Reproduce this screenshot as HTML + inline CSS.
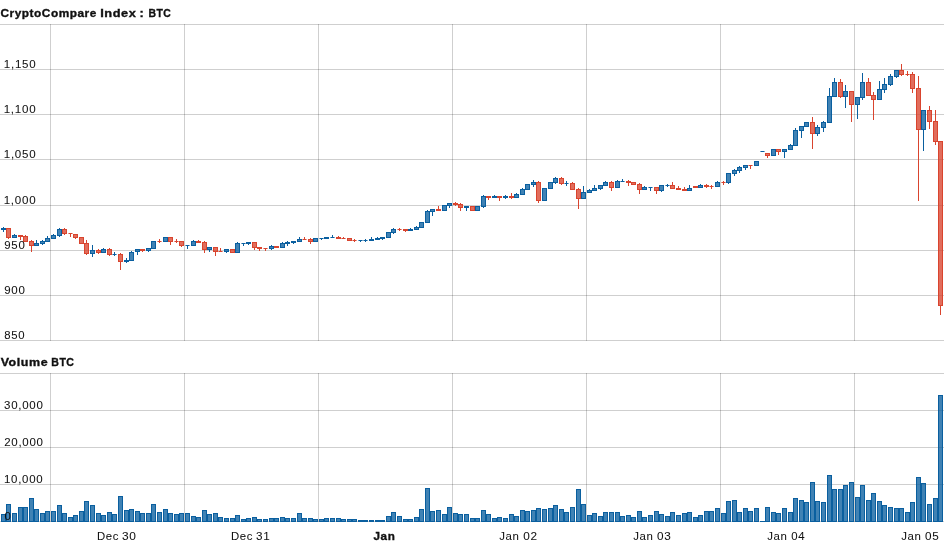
<!DOCTYPE html>
<html><head><meta charset="utf-8">
<style>
html,body{margin:0;padding:0;background:#fff;}
body{width:944px;height:550px;overflow:hidden;position:relative;}
svg{position:absolute;left:0;top:0;will-change:transform;}
text{font-family:"Liberation Sans",sans-serif;fill:#111;}
</style></head><body>
<svg width="944" height="550" viewBox="0 0 944 550">
<g shape-rendering="crispEdges"><rect x="0" y="24" width="944" height="1" fill="rgba(0,0,0,0.19)"/><rect x="0" y="69" width="944" height="1" fill="rgba(0,0,0,0.19)"/><rect x="0" y="114" width="944" height="1" fill="rgba(0,0,0,0.19)"/><rect x="0" y="159" width="944" height="1" fill="rgba(0,0,0,0.19)"/><rect x="0" y="205" width="944" height="1" fill="rgba(0,0,0,0.19)"/><rect x="0" y="250" width="944" height="1" fill="rgba(0,0,0,0.19)"/><rect x="0" y="295" width="944" height="1" fill="rgba(0,0,0,0.19)"/><rect x="0" y="340" width="944" height="1" fill="rgba(0,0,0,0.19)"/><rect x="0" y="373" width="944" height="1" fill="rgba(0,0,0,0.19)"/><rect x="0" y="410" width="944" height="1" fill="rgba(0,0,0,0.19)"/><rect x="0" y="447" width="944" height="1" fill="rgba(0,0,0,0.19)"/><rect x="0" y="484" width="944" height="1" fill="rgba(0,0,0,0.19)"/><rect x="0" y="521" width="944" height="1" fill="rgba(0,0,0,0.19)"/><rect x="50" y="24" width="1" height="317" fill="rgba(0,0,0,0.19)"/><rect x="50" y="373" width="1" height="149" fill="rgba(0,0,0,0.19)"/><rect x="184" y="24" width="1" height="317" fill="rgba(0,0,0,0.19)"/><rect x="184" y="373" width="1" height="149" fill="rgba(0,0,0,0.19)"/><rect x="318" y="24" width="1" height="317" fill="rgba(0,0,0,0.19)"/><rect x="318" y="373" width="1" height="149" fill="rgba(0,0,0,0.19)"/><rect x="452" y="24" width="1" height="317" fill="rgba(0,0,0,0.19)"/><rect x="452" y="373" width="1" height="149" fill="rgba(0,0,0,0.19)"/><rect x="586" y="24" width="1" height="317" fill="rgba(0,0,0,0.19)"/><rect x="586" y="373" width="1" height="149" fill="rgba(0,0,0,0.19)"/><rect x="720" y="24" width="1" height="317" fill="rgba(0,0,0,0.19)"/><rect x="720" y="373" width="1" height="149" fill="rgba(0,0,0,0.19)"/><rect x="854" y="24" width="1" height="317" fill="rgba(0,0,0,0.19)"/><rect x="854" y="373" width="1" height="149" fill="rgba(0,0,0,0.19)"/></g>
<g shape-rendering="crispEdges"><rect x="3" y="227" width="1" height="1" fill="#0a5f9f"/><rect x="3" y="230" width="1" height="2" fill="#0a5f9f"/><rect x="1" y="228" width="5" height="2" fill="#0a5f9f"/><rect x="8" y="238" width="1" height="1" fill="#d9442e"/><rect x="6.5" y="228.5" width="4" height="9" fill="rgba(217,68,46,0.78)" stroke="#d9442e" stroke-width="1"/><rect x="14" y="234" width="1" height="1" fill="#0a5f9f"/><rect x="12.5" y="235.5" width="4" height="2" fill="rgba(10,95,159,0.78)" stroke="#0a5f9f" stroke-width="1"/><rect x="20" y="237" width="1" height="3" fill="#d9442e"/><rect x="18" y="235" width="5" height="2" fill="#d9442e"/><rect x="25" y="235" width="1" height="1" fill="#d9442e"/><rect x="23.5" y="236.5" width="4" height="5" fill="rgba(217,68,46,0.78)" stroke="#d9442e" stroke-width="1"/><rect x="31" y="240" width="1" height="1" fill="#d9442e"/><rect x="31" y="246" width="1" height="6" fill="#d9442e"/><rect x="29.5" y="241.5" width="4" height="4" fill="rgba(217,68,46,0.78)" stroke="#d9442e" stroke-width="1"/><rect x="36" y="240" width="1" height="3" fill="#0a5f9f"/><rect x="34.5" y="243.5" width="4" height="2" fill="rgba(10,95,159,0.78)" stroke="#0a5f9f" stroke-width="1"/><rect x="42" y="240" width="1" height="1" fill="#0a5f9f"/><rect x="42" y="244" width="1" height="1" fill="#0a5f9f"/><rect x="40.5" y="241.5" width="4" height="2" fill="rgba(10,95,159,0.78)" stroke="#0a5f9f" stroke-width="1"/><rect x="47" y="236" width="1" height="2" fill="#0a5f9f"/><rect x="45.5" y="238.5" width="4" height="3" fill="rgba(10,95,159,0.78)" stroke="#0a5f9f" stroke-width="1"/><rect x="53" y="234" width="1" height="1" fill="#0a5f9f"/><rect x="51.5" y="235.5" width="4" height="3" fill="rgba(10,95,159,0.78)" stroke="#0a5f9f" stroke-width="1"/><rect x="59" y="228" width="1" height="1" fill="#0a5f9f"/><rect x="59" y="236" width="1" height="1" fill="#0a5f9f"/><rect x="57.5" y="229.5" width="4" height="6" fill="rgba(10,95,159,0.78)" stroke="#0a5f9f" stroke-width="1"/><rect x="64" y="228" width="1" height="1" fill="#d9442e"/><rect x="64" y="234" width="1" height="1" fill="#d9442e"/><rect x="62.5" y="229.5" width="4" height="4" fill="rgba(217,68,46,0.78)" stroke="#d9442e" stroke-width="1"/><rect x="70" y="234" width="1" height="3" fill="#d9442e"/><rect x="69" y="233" width="3" height="1" fill="#d9442e"/><rect x="68" y="233" width="1" height="1" fill="#d9442e" fill-opacity="0.55"/><rect x="72" y="233" width="1" height="1" fill="#d9442e" fill-opacity="0.55"/><rect x="75" y="238" width="1" height="1" fill="#d9442e"/><rect x="73.5" y="234.5" width="4" height="3" fill="rgba(217,68,46,0.78)" stroke="#d9442e" stroke-width="1"/><rect x="79.5" y="237.5" width="4" height="6" fill="rgba(217,68,46,0.78)" stroke="#d9442e" stroke-width="1"/><rect x="86" y="240" width="1" height="3" fill="#d9442e"/><rect x="86" y="254" width="1" height="1" fill="#d9442e"/><rect x="84.5" y="243.5" width="4" height="10" fill="rgba(217,68,46,0.78)" stroke="#d9442e" stroke-width="1"/><rect x="92" y="245" width="1" height="5" fill="#0a5f9f"/><rect x="92" y="254" width="1" height="3" fill="#0a5f9f"/><rect x="90.5" y="250.5" width="4" height="3" fill="rgba(10,95,159,0.78)" stroke="#0a5f9f" stroke-width="1"/><rect x="98" y="249" width="1" height="1" fill="#d9442e"/><rect x="98" y="253" width="1" height="1" fill="#d9442e"/><rect x="96.5" y="250.5" width="4" height="2" fill="rgba(217,68,46,0.78)" stroke="#d9442e" stroke-width="1"/><rect x="103" y="248" width="1" height="1" fill="#0a5f9f"/><rect x="101.5" y="249.5" width="4" height="3" fill="rgba(10,95,159,0.78)" stroke="#0a5f9f" stroke-width="1"/><rect x="109" y="248" width="1" height="1" fill="#d9442e"/><rect x="109" y="255" width="1" height="1" fill="#d9442e"/><rect x="107.5" y="249.5" width="4" height="5" fill="rgba(217,68,46,0.78)" stroke="#d9442e" stroke-width="1"/><rect x="114" y="252" width="1" height="2" fill="#0a5f9f"/><rect x="114" y="255" width="1" height="1" fill="#0a5f9f"/><rect x="113" y="254" width="3" height="1" fill="#0a5f9f"/><rect x="112" y="254" width="1" height="1" fill="#0a5f9f" fill-opacity="0.55"/><rect x="116" y="254" width="1" height="1" fill="#0a5f9f" fill-opacity="0.55"/><rect x="120" y="253" width="1" height="1" fill="#d9442e"/><rect x="120" y="262" width="1" height="8" fill="#d9442e"/><rect x="118.5" y="254.5" width="4" height="7" fill="rgba(217,68,46,0.78)" stroke="#d9442e" stroke-width="1"/><rect x="126" y="258" width="1" height="2" fill="#0a5f9f"/><rect x="126" y="262" width="1" height="1" fill="#0a5f9f"/><rect x="124" y="260" width="5" height="2" fill="#0a5f9f"/><rect x="131" y="251" width="1" height="1" fill="#0a5f9f"/><rect x="129.5" y="252.5" width="4" height="8" fill="rgba(10,95,159,0.78)" stroke="#0a5f9f" stroke-width="1"/><rect x="137" y="252" width="1" height="3" fill="#0a5f9f"/><rect x="135.5" y="249.5" width="4" height="2" fill="rgba(10,95,159,0.78)" stroke="#0a5f9f" stroke-width="1"/><rect x="142" y="251" width="1" height="1" fill="#d9442e"/><rect x="140" y="249" width="5" height="2" fill="#d9442e"/><rect x="148" y="251" width="1" height="1" fill="#0a5f9f"/><rect x="146.5" y="248.5" width="4" height="2" fill="rgba(10,95,159,0.78)" stroke="#0a5f9f" stroke-width="1"/><rect x="151.5" y="241.5" width="4" height="7" fill="rgba(10,95,159,0.78)" stroke="#0a5f9f" stroke-width="1"/><rect x="159" y="239" width="1" height="2" fill="#d9442e"/><rect x="159" y="242" width="1" height="1" fill="#d9442e"/><rect x="158" y="241" width="3" height="1" fill="#d9442e"/><rect x="157" y="241" width="1" height="1" fill="#d9442e" fill-opacity="0.55"/><rect x="161" y="241" width="1" height="1" fill="#d9442e" fill-opacity="0.55"/><rect x="163.5" y="237.5" width="4" height="4" fill="rgba(10,95,159,0.78)" stroke="#0a5f9f" stroke-width="1"/><rect x="170" y="242" width="1" height="3" fill="#d9442e"/><rect x="168.5" y="237.5" width="4" height="4" fill="rgba(217,68,46,0.78)" stroke="#d9442e" stroke-width="1"/><rect x="176" y="239" width="1" height="2" fill="#d9442e"/><rect x="176" y="242" width="1" height="1" fill="#d9442e"/><rect x="175" y="241" width="3" height="1" fill="#d9442e"/><rect x="174" y="241" width="1" height="1" fill="#d9442e" fill-opacity="0.55"/><rect x="178" y="241" width="1" height="1" fill="#d9442e" fill-opacity="0.55"/><rect x="181" y="246" width="1" height="1" fill="#d9442e"/><rect x="179.5" y="241.5" width="4" height="4" fill="rgba(217,68,46,0.78)" stroke="#d9442e" stroke-width="1"/><rect x="187" y="246" width="1" height="3" fill="#0a5f9f"/><rect x="186" y="245" width="3" height="1" fill="#0a5f9f"/><rect x="185" y="245" width="1" height="1" fill="#0a5f9f" fill-opacity="0.55"/><rect x="189" y="245" width="1" height="1" fill="#0a5f9f" fill-opacity="0.55"/><rect x="193" y="240" width="1" height="1" fill="#0a5f9f"/><rect x="191.5" y="241.5" width="4" height="4" fill="rgba(10,95,159,0.78)" stroke="#0a5f9f" stroke-width="1"/><rect x="198" y="240" width="1" height="1" fill="#d9442e"/><rect x="196" y="241" width="5" height="2" fill="#d9442e"/><rect x="204" y="241" width="1" height="1" fill="#d9442e"/><rect x="204" y="250" width="1" height="3" fill="#d9442e"/><rect x="202.5" y="242.5" width="4" height="7" fill="rgba(217,68,46,0.78)" stroke="#d9442e" stroke-width="1"/><rect x="209" y="250" width="1" height="2" fill="#0a5f9f"/><rect x="207.5" y="247.5" width="4" height="2" fill="rgba(10,95,159,0.78)" stroke="#0a5f9f" stroke-width="1"/><rect x="215" y="252" width="1" height="4" fill="#d9442e"/><rect x="213.5" y="247.5" width="4" height="4" fill="rgba(217,68,46,0.78)" stroke="#d9442e" stroke-width="1"/><rect x="220" y="248" width="1" height="3" fill="#d9442e"/><rect x="219" y="251" width="3" height="1" fill="#d9442e"/><rect x="218" y="251" width="1" height="1" fill="#d9442e" fill-opacity="0.55"/><rect x="222" y="251" width="1" height="1" fill="#d9442e" fill-opacity="0.55"/><rect x="226" y="252" width="1" height="1" fill="#0a5f9f"/><rect x="224.5" y="249.5" width="4" height="2" fill="rgba(10,95,159,0.78)" stroke="#0a5f9f" stroke-width="1"/><rect x="230.5" y="249.5" width="4" height="3" fill="rgba(217,68,46,0.78)" stroke="#d9442e" stroke-width="1"/><rect x="237" y="242" width="1" height="1" fill="#0a5f9f"/><rect x="235.5" y="243.5" width="4" height="9" fill="rgba(10,95,159,0.78)" stroke="#0a5f9f" stroke-width="1"/><rect x="243" y="244" width="1" height="2" fill="#0a5f9f"/><rect x="242" y="243" width="3" height="1" fill="#0a5f9f"/><rect x="241" y="243" width="1" height="1" fill="#0a5f9f" fill-opacity="0.55"/><rect x="245" y="243" width="1" height="1" fill="#0a5f9f" fill-opacity="0.55"/><rect x="248" y="244" width="1" height="1" fill="#0a5f9f"/><rect x="246" y="242" width="5" height="2" fill="#0a5f9f"/><rect x="254" y="248" width="1" height="2" fill="#d9442e"/><rect x="252.5" y="242.5" width="4" height="5" fill="rgba(217,68,46,0.78)" stroke="#d9442e" stroke-width="1"/><rect x="259" y="249" width="1" height="2" fill="#d9442e"/><rect x="257" y="247" width="5" height="2" fill="#d9442e"/><rect x="265" y="249" width="1" height="2" fill="#d9442e"/><rect x="264" y="248" width="3" height="1" fill="#d9442e"/><rect x="263" y="248" width="1" height="1" fill="#d9442e" fill-opacity="0.55"/><rect x="267" y="248" width="1" height="1" fill="#d9442e" fill-opacity="0.55"/><rect x="271" y="245" width="1" height="1" fill="#0a5f9f"/><rect x="271" y="249" width="1" height="1" fill="#0a5f9f"/><rect x="269.5" y="246.5" width="4" height="2" fill="rgba(10,95,159,0.78)" stroke="#0a5f9f" stroke-width="1"/><rect x="274" y="246" width="5" height="2" fill="#d9442e"/><rect x="282" y="242" width="1" height="1" fill="#0a5f9f"/><rect x="280.5" y="243.5" width="4" height="4" fill="rgba(10,95,159,0.78)" stroke="#0a5f9f" stroke-width="1"/><rect x="287" y="241" width="1" height="1" fill="#0a5f9f"/><rect x="287" y="244" width="1" height="2" fill="#0a5f9f"/><rect x="285" y="242" width="5" height="2" fill="#0a5f9f"/><rect x="293" y="243" width="1" height="1" fill="#0a5f9f"/><rect x="291" y="241" width="5" height="2" fill="#0a5f9f"/><rect x="299" y="237" width="1" height="2" fill="#0a5f9f"/><rect x="297.5" y="239.5" width="4" height="2" fill="rgba(10,95,159,0.78)" stroke="#0a5f9f" stroke-width="1"/><rect x="304" y="237" width="1" height="2" fill="#d9442e"/><rect x="303" y="239" width="3" height="1" fill="#d9442e"/><rect x="302" y="239" width="1" height="1" fill="#d9442e" fill-opacity="0.55"/><rect x="306" y="239" width="1" height="1" fill="#d9442e" fill-opacity="0.55"/><rect x="310" y="238" width="1" height="1" fill="#d9442e"/><rect x="310" y="242" width="1" height="2" fill="#d9442e"/><rect x="308.5" y="239.5" width="4" height="2" fill="rgba(217,68,46,0.78)" stroke="#d9442e" stroke-width="1"/><rect x="313.5" y="238.5" width="4" height="3" fill="rgba(10,95,159,0.78)" stroke="#0a5f9f" stroke-width="1"/><rect x="321" y="239" width="1" height="1" fill="#0a5f9f"/><rect x="320" y="238" width="3" height="1" fill="#0a5f9f"/><rect x="319" y="238" width="1" height="1" fill="#0a5f9f" fill-opacity="0.55"/><rect x="323" y="238" width="1" height="1" fill="#0a5f9f" fill-opacity="0.55"/><rect x="324" y="237" width="5" height="2" fill="#0a5f9f"/><rect x="332" y="235" width="1" height="2" fill="#0a5f9f"/><rect x="331" y="237" width="3" height="1" fill="#0a5f9f"/><rect x="330" y="237" width="1" height="1" fill="#0a5f9f" fill-opacity="0.55"/><rect x="334" y="237" width="1" height="1" fill="#0a5f9f" fill-opacity="0.55"/><rect x="338" y="236" width="1" height="1" fill="#d9442e"/><rect x="336" y="237" width="5" height="2" fill="#d9442e"/><rect x="343" y="237" width="1" height="1" fill="#d9442e"/><rect x="342" y="238" width="3" height="1" fill="#d9442e"/><rect x="341" y="238" width="1" height="1" fill="#d9442e" fill-opacity="0.55"/><rect x="345" y="238" width="1" height="1" fill="#d9442e" fill-opacity="0.55"/><rect x="347.5" y="238.5" width="4" height="2" fill="rgba(217,68,46,0.78)" stroke="#d9442e" stroke-width="1"/><rect x="354" y="239" width="1" height="1" fill="#d9442e"/><rect x="354" y="241" width="1" height="1" fill="#d9442e"/><rect x="353" y="240" width="3" height="1" fill="#d9442e"/><rect x="352" y="240" width="1" height="1" fill="#d9442e" fill-opacity="0.55"/><rect x="356" y="240" width="1" height="1" fill="#d9442e" fill-opacity="0.55"/><rect x="360" y="241" width="1" height="1" fill="#0a5f9f"/><rect x="359" y="240" width="3" height="1" fill="#0a5f9f"/><rect x="358" y="240" width="1" height="1" fill="#0a5f9f" fill-opacity="0.55"/><rect x="362" y="240" width="1" height="1" fill="#0a5f9f" fill-opacity="0.55"/><rect x="365" y="239" width="1" height="1" fill="#0a5f9f"/><rect x="365" y="241" width="1" height="1" fill="#0a5f9f"/><rect x="364" y="240" width="3" height="1" fill="#0a5f9f"/><rect x="363" y="240" width="1" height="1" fill="#0a5f9f" fill-opacity="0.55"/><rect x="367" y="240" width="1" height="1" fill="#0a5f9f" fill-opacity="0.55"/><rect x="371" y="237" width="1" height="2" fill="#0a5f9f"/><rect x="369" y="239" width="5" height="2" fill="#0a5f9f"/><rect x="377" y="237" width="1" height="1" fill="#0a5f9f"/><rect x="375" y="238" width="5" height="2" fill="#0a5f9f"/><rect x="382" y="239" width="1" height="1" fill="#0a5f9f"/><rect x="380" y="237" width="5" height="2" fill="#0a5f9f"/><rect x="386.5" y="232.5" width="4" height="5" fill="rgba(10,95,159,0.78)" stroke="#0a5f9f" stroke-width="1"/><rect x="393" y="228" width="1" height="1" fill="#0a5f9f"/><rect x="393" y="233" width="1" height="1" fill="#0a5f9f"/><rect x="391.5" y="229.5" width="4" height="3" fill="rgba(10,95,159,0.78)" stroke="#0a5f9f" stroke-width="1"/><rect x="399" y="228" width="1" height="1" fill="#d9442e"/><rect x="399" y="230" width="1" height="1" fill="#d9442e"/><rect x="398" y="229" width="3" height="1" fill="#d9442e"/><rect x="397" y="229" width="1" height="1" fill="#d9442e" fill-opacity="0.55"/><rect x="401" y="229" width="1" height="1" fill="#d9442e" fill-opacity="0.55"/><rect x="405" y="231" width="1" height="1" fill="#d9442e"/><rect x="403" y="229" width="5" height="2" fill="#d9442e"/><rect x="410" y="228" width="1" height="1" fill="#0a5f9f"/><rect x="408" y="229" width="5" height="2" fill="#0a5f9f"/><rect x="416" y="226" width="1" height="1" fill="#0a5f9f"/><rect x="414.5" y="227.5" width="4" height="2" fill="rgba(10,95,159,0.78)" stroke="#0a5f9f" stroke-width="1"/><rect x="419.5" y="222.5" width="4" height="5" fill="rgba(10,95,159,0.78)" stroke="#0a5f9f" stroke-width="1"/><rect x="427" y="210" width="1" height="1" fill="#0a5f9f"/><rect x="425.5" y="211.5" width="4" height="11" fill="rgba(10,95,159,0.78)" stroke="#0a5f9f" stroke-width="1"/><rect x="432" y="212" width="1" height="4" fill="#0a5f9f"/><rect x="430.5" y="209.5" width="4" height="2" fill="rgba(10,95,159,0.78)" stroke="#0a5f9f" stroke-width="1"/><rect x="438" y="206" width="1" height="3" fill="#d9442e"/><rect x="436" y="209" width="5" height="2" fill="#d9442e"/><rect x="442.5" y="205.5" width="4" height="5" fill="rgba(10,95,159,0.78)" stroke="#0a5f9f" stroke-width="1"/><rect x="449" y="206" width="1" height="2" fill="#0a5f9f"/><rect x="447.5" y="203.5" width="4" height="2" fill="rgba(10,95,159,0.78)" stroke="#0a5f9f" stroke-width="1"/><rect x="455" y="202" width="1" height="1" fill="#d9442e"/><rect x="455" y="205" width="1" height="1" fill="#d9442e"/><rect x="453" y="203" width="5" height="2" fill="#d9442e"/><rect x="460" y="203" width="1" height="1" fill="#d9442e"/><rect x="460" y="208" width="1" height="3" fill="#d9442e"/><rect x="458.5" y="204.5" width="4" height="3" fill="rgba(217,68,46,0.78)" stroke="#d9442e" stroke-width="1"/><rect x="466" y="208" width="1" height="3" fill="#0a5f9f"/><rect x="464" y="206" width="5" height="2" fill="#0a5f9f"/><rect x="470.5" y="206.5" width="4" height="4" fill="rgba(217,68,46,0.78)" stroke="#d9442e" stroke-width="1"/><rect x="475.5" y="206.5" width="4" height="4" fill="rgba(10,95,159,0.78)" stroke="#0a5f9f" stroke-width="1"/><rect x="483" y="195" width="1" height="1" fill="#0a5f9f"/><rect x="483" y="207" width="1" height="1" fill="#0a5f9f"/><rect x="481.5" y="196.5" width="4" height="10" fill="rgba(10,95,159,0.78)" stroke="#0a5f9f" stroke-width="1"/><rect x="488" y="198" width="1" height="2" fill="#d9442e"/><rect x="486" y="196" width="5" height="2" fill="#d9442e"/><rect x="494" y="195" width="1" height="1" fill="#0a5f9f"/><rect x="492" y="196" width="5" height="2" fill="#0a5f9f"/><rect x="499" y="198" width="1" height="3" fill="#d9442e"/><rect x="497" y="196" width="5" height="2" fill="#d9442e"/><rect x="505" y="195" width="1" height="1" fill="#0a5f9f"/><rect x="505" y="198" width="1" height="1" fill="#0a5f9f"/><rect x="503" y="196" width="5" height="2" fill="#0a5f9f"/><rect x="511" y="193" width="1" height="3" fill="#d9442e"/><rect x="511" y="198" width="1" height="1" fill="#d9442e"/><rect x="509" y="196" width="5" height="2" fill="#d9442e"/><rect x="516" y="193" width="1" height="1" fill="#0a5f9f"/><rect x="514.5" y="194.5" width="4" height="3" fill="rgba(10,95,159,0.78)" stroke="#0a5f9f" stroke-width="1"/><rect x="522" y="188" width="1" height="1" fill="#0a5f9f"/><rect x="520.5" y="189.5" width="4" height="5" fill="rgba(10,95,159,0.78)" stroke="#0a5f9f" stroke-width="1"/><rect x="525.5" y="184.5" width="4" height="5" fill="rgba(10,95,159,0.78)" stroke="#0a5f9f" stroke-width="1"/><rect x="533" y="180" width="1" height="2" fill="#0a5f9f"/><rect x="533" y="185" width="1" height="2" fill="#0a5f9f"/><rect x="531.5" y="182.5" width="4" height="2" fill="rgba(10,95,159,0.78)" stroke="#0a5f9f" stroke-width="1"/><rect x="538" y="181" width="1" height="1" fill="#d9442e"/><rect x="538" y="201" width="1" height="2" fill="#d9442e"/><rect x="536.5" y="182.5" width="4" height="18" fill="rgba(217,68,46,0.78)" stroke="#d9442e" stroke-width="1"/><rect x="542.5" y="188.5" width="4" height="12" fill="rgba(10,95,159,0.78)" stroke="#0a5f9f" stroke-width="1"/><rect x="548.5" y="182.5" width="4" height="6" fill="rgba(10,95,159,0.78)" stroke="#0a5f9f" stroke-width="1"/><rect x="555" y="177" width="1" height="1" fill="#0a5f9f"/><rect x="555" y="183" width="1" height="1" fill="#0a5f9f"/><rect x="553.5" y="178.5" width="4" height="4" fill="rgba(10,95,159,0.78)" stroke="#0a5f9f" stroke-width="1"/><rect x="561" y="177" width="1" height="1" fill="#d9442e"/><rect x="561" y="184" width="1" height="1" fill="#d9442e"/><rect x="559.5" y="178.5" width="4" height="5" fill="rgba(217,68,46,0.78)" stroke="#d9442e" stroke-width="1"/><rect x="566" y="181" width="1" height="2" fill="#0a5f9f"/><rect x="566" y="184" width="1" height="2" fill="#0a5f9f"/><rect x="565" y="183" width="3" height="1" fill="#0a5f9f"/><rect x="564" y="183" width="1" height="1" fill="#0a5f9f" fill-opacity="0.55"/><rect x="568" y="183" width="1" height="1" fill="#0a5f9f" fill-opacity="0.55"/><rect x="572" y="182" width="1" height="1" fill="#d9442e"/><rect x="570.5" y="183.5" width="4" height="6" fill="rgba(217,68,46,0.78)" stroke="#d9442e" stroke-width="1"/><rect x="578" y="188" width="1" height="1" fill="#d9442e"/><rect x="578" y="199" width="1" height="10" fill="#d9442e"/><rect x="576.5" y="189.5" width="4" height="9" fill="rgba(217,68,46,0.78)" stroke="#d9442e" stroke-width="1"/><rect x="583" y="186" width="1" height="6" fill="#0a5f9f"/><rect x="581.5" y="192.5" width="4" height="6" fill="rgba(10,95,159,0.78)" stroke="#0a5f9f" stroke-width="1"/><rect x="589" y="189" width="1" height="1" fill="#0a5f9f"/><rect x="587.5" y="190.5" width="4" height="2" fill="rgba(10,95,159,0.78)" stroke="#0a5f9f" stroke-width="1"/><rect x="594" y="185" width="1" height="3" fill="#0a5f9f"/><rect x="592.5" y="188.5" width="4" height="2" fill="rgba(10,95,159,0.78)" stroke="#0a5f9f" stroke-width="1"/><rect x="600" y="189" width="1" height="1" fill="#0a5f9f"/><rect x="598.5" y="185.5" width="4" height="3" fill="rgba(10,95,159,0.78)" stroke="#0a5f9f" stroke-width="1"/><rect x="605" y="181" width="1" height="1" fill="#0a5f9f"/><rect x="603.5" y="182.5" width="4" height="3" fill="rgba(10,95,159,0.78)" stroke="#0a5f9f" stroke-width="1"/><rect x="611" y="181" width="1" height="1" fill="#d9442e"/><rect x="611" y="188" width="1" height="3" fill="#d9442e"/><rect x="609.5" y="182.5" width="4" height="5" fill="rgba(217,68,46,0.78)" stroke="#d9442e" stroke-width="1"/><rect x="617" y="180" width="1" height="1" fill="#0a5f9f"/><rect x="615.5" y="181.5" width="4" height="6" fill="rgba(10,95,159,0.78)" stroke="#0a5f9f" stroke-width="1"/><rect x="622" y="179" width="1" height="2" fill="#0a5f9f"/><rect x="621" y="181" width="3" height="1" fill="#0a5f9f"/><rect x="620" y="181" width="1" height="1" fill="#0a5f9f" fill-opacity="0.55"/><rect x="624" y="181" width="1" height="1" fill="#0a5f9f" fill-opacity="0.55"/><rect x="628" y="180" width="1" height="1" fill="#d9442e"/><rect x="628" y="183" width="1" height="3" fill="#d9442e"/><rect x="626" y="181" width="5" height="2" fill="#d9442e"/><rect x="631.5" y="182.5" width="4" height="2" fill="rgba(217,68,46,0.78)" stroke="#d9442e" stroke-width="1"/><rect x="639" y="183" width="1" height="1" fill="#d9442e"/><rect x="639" y="190" width="1" height="4" fill="#d9442e"/><rect x="637.5" y="184.5" width="4" height="5" fill="rgba(217,68,46,0.78)" stroke="#d9442e" stroke-width="1"/><rect x="644" y="186" width="1" height="1" fill="#0a5f9f"/><rect x="642.5" y="187.5" width="4" height="2" fill="rgba(10,95,159,0.78)" stroke="#0a5f9f" stroke-width="1"/><rect x="650" y="188" width="1" height="3" fill="#0a5f9f"/><rect x="649" y="187" width="3" height="1" fill="#0a5f9f"/><rect x="648" y="187" width="1" height="1" fill="#0a5f9f" fill-opacity="0.55"/><rect x="652" y="187" width="1" height="1" fill="#0a5f9f" fill-opacity="0.55"/><rect x="656" y="191" width="1" height="3" fill="#d9442e"/><rect x="654.5" y="187.5" width="4" height="3" fill="rgba(217,68,46,0.78)" stroke="#d9442e" stroke-width="1"/><rect x="661" y="191" width="1" height="1" fill="#0a5f9f"/><rect x="659.5" y="185.5" width="4" height="5" fill="rgba(10,95,159,0.78)" stroke="#0a5f9f" stroke-width="1"/><rect x="667" y="184" width="1" height="1" fill="#0a5f9f"/><rect x="667" y="186" width="1" height="1" fill="#0a5f9f"/><rect x="666" y="185" width="3" height="1" fill="#0a5f9f"/><rect x="665" y="185" width="1" height="1" fill="#0a5f9f" fill-opacity="0.55"/><rect x="669" y="185" width="1" height="1" fill="#0a5f9f" fill-opacity="0.55"/><rect x="672" y="182" width="1" height="3" fill="#d9442e"/><rect x="670.5" y="185.5" width="4" height="3" fill="rgba(217,68,46,0.78)" stroke="#d9442e" stroke-width="1"/><rect x="678" y="186" width="1" height="2" fill="#d9442e"/><rect x="676" y="188" width="5" height="2" fill="#d9442e"/><rect x="684" y="187" width="1" height="2" fill="#d9442e"/><rect x="682" y="189" width="5" height="2" fill="#d9442e"/><rect x="689" y="185" width="1" height="3" fill="#0a5f9f"/><rect x="687.5" y="188.5" width="4" height="2" fill="rgba(10,95,159,0.78)" stroke="#0a5f9f" stroke-width="1"/><rect x="693" y="186" width="5" height="2" fill="#d9442e"/><rect x="700" y="184" width="1" height="1" fill="#0a5f9f"/><rect x="698.5" y="185.5" width="4" height="2" fill="rgba(10,95,159,0.78)" stroke="#0a5f9f" stroke-width="1"/><rect x="706" y="184" width="1" height="1" fill="#d9442e"/><rect x="706" y="187" width="1" height="1" fill="#d9442e"/><rect x="704" y="185" width="5" height="2" fill="#d9442e"/><rect x="711" y="185" width="1" height="1" fill="#d9442e"/><rect x="711" y="187" width="1" height="2" fill="#d9442e"/><rect x="710" y="186" width="3" height="1" fill="#d9442e"/><rect x="709" y="186" width="1" height="1" fill="#d9442e" fill-opacity="0.55"/><rect x="713" y="186" width="1" height="1" fill="#d9442e" fill-opacity="0.55"/><rect x="717" y="181" width="1" height="1" fill="#0a5f9f"/><rect x="715.5" y="182.5" width="4" height="4" fill="rgba(10,95,159,0.78)" stroke="#0a5f9f" stroke-width="1"/><rect x="723" y="181" width="1" height="1" fill="#d9442e"/><rect x="723" y="183" width="1" height="2" fill="#d9442e"/><rect x="722" y="182" width="3" height="1" fill="#d9442e"/><rect x="721" y="182" width="1" height="1" fill="#d9442e" fill-opacity="0.55"/><rect x="725" y="182" width="1" height="1" fill="#d9442e" fill-opacity="0.55"/><rect x="728" y="183" width="1" height="1" fill="#0a5f9f"/><rect x="726.5" y="173.5" width="4" height="9" fill="rgba(10,95,159,0.78)" stroke="#0a5f9f" stroke-width="1"/><rect x="734" y="169" width="1" height="1" fill="#0a5f9f"/><rect x="734" y="174" width="1" height="2" fill="#0a5f9f"/><rect x="732.5" y="170.5" width="4" height="3" fill="rgba(10,95,159,0.78)" stroke="#0a5f9f" stroke-width="1"/><rect x="739" y="166" width="1" height="1" fill="#0a5f9f"/><rect x="739" y="171" width="1" height="2" fill="#0a5f9f"/><rect x="737.5" y="167.5" width="4" height="3" fill="rgba(10,95,159,0.78)" stroke="#0a5f9f" stroke-width="1"/><rect x="745" y="168" width="1" height="2" fill="#0a5f9f"/><rect x="743.5" y="165.5" width="4" height="2" fill="rgba(10,95,159,0.78)" stroke="#0a5f9f" stroke-width="1"/><rect x="750" y="166" width="1" height="3" fill="#d9442e"/><rect x="749" y="165" width="3" height="1" fill="#d9442e"/><rect x="748" y="165" width="1" height="1" fill="#d9442e" fill-opacity="0.55"/><rect x="752" y="165" width="1" height="1" fill="#d9442e" fill-opacity="0.55"/><rect x="754.5" y="161.5" width="4" height="4" fill="rgba(10,95,159,0.78)" stroke="#0a5f9f" stroke-width="1"/><rect x="761" y="151" width="3" height="1" fill="#0a5f9f"/><rect x="760" y="151" width="1" height="1" fill="#0a5f9f" fill-opacity="0.55"/><rect x="764" y="151" width="1" height="1" fill="#0a5f9f" fill-opacity="0.55"/><rect x="767" y="156" width="1" height="2" fill="#d9442e"/><rect x="765.5" y="153.5" width="4" height="2" fill="rgba(217,68,46,0.78)" stroke="#d9442e" stroke-width="1"/><rect x="771.5" y="149.5" width="4" height="6" fill="rgba(10,95,159,0.78)" stroke="#0a5f9f" stroke-width="1"/><rect x="778" y="152" width="1" height="3" fill="#d9442e"/><rect x="776.5" y="149.5" width="4" height="2" fill="rgba(217,68,46,0.78)" stroke="#d9442e" stroke-width="1"/><rect x="784" y="152" width="1" height="6" fill="#0a5f9f"/><rect x="782.5" y="149.5" width="4" height="2" fill="rgba(10,95,159,0.78)" stroke="#0a5f9f" stroke-width="1"/><rect x="790" y="144" width="1" height="1" fill="#0a5f9f"/><rect x="788.5" y="145.5" width="4" height="4" fill="rgba(10,95,159,0.78)" stroke="#0a5f9f" stroke-width="1"/><rect x="795" y="128" width="1" height="2" fill="#0a5f9f"/><rect x="793.5" y="130.5" width="4" height="15" fill="rgba(10,95,159,0.78)" stroke="#0a5f9f" stroke-width="1"/><rect x="801" y="131" width="1" height="7" fill="#0a5f9f"/><rect x="799.5" y="126.5" width="4" height="4" fill="rgba(10,95,159,0.78)" stroke="#0a5f9f" stroke-width="1"/><rect x="804.5" y="122.5" width="4" height="4" fill="rgba(10,95,159,0.78)" stroke="#0a5f9f" stroke-width="1"/><rect x="812" y="117" width="1" height="5" fill="#d9442e"/><rect x="812" y="134" width="1" height="15" fill="#d9442e"/><rect x="810.5" y="122.5" width="4" height="11" fill="rgba(217,68,46,0.78)" stroke="#d9442e" stroke-width="1"/><rect x="817" y="125" width="1" height="2" fill="#0a5f9f"/><rect x="817" y="134" width="1" height="2" fill="#0a5f9f"/><rect x="815.5" y="127.5" width="4" height="6" fill="rgba(10,95,159,0.78)" stroke="#0a5f9f" stroke-width="1"/><rect x="823" y="121" width="1" height="1" fill="#0a5f9f"/><rect x="823" y="128" width="1" height="4" fill="#0a5f9f"/><rect x="821.5" y="122.5" width="4" height="5" fill="rgba(10,95,159,0.78)" stroke="#0a5f9f" stroke-width="1"/><rect x="829" y="88" width="1" height="8" fill="#0a5f9f"/><rect x="827.5" y="96.5" width="4" height="26" fill="rgba(10,95,159,0.78)" stroke="#0a5f9f" stroke-width="1"/><rect x="834" y="78" width="1" height="4" fill="#0a5f9f"/><rect x="832.5" y="82.5" width="4" height="14" fill="rgba(10,95,159,0.78)" stroke="#0a5f9f" stroke-width="1"/><rect x="840" y="79" width="1" height="3" fill="#d9442e"/><rect x="840" y="97" width="1" height="1" fill="#d9442e"/><rect x="838.5" y="82.5" width="4" height="14" fill="rgba(217,68,46,0.78)" stroke="#d9442e" stroke-width="1"/><rect x="845" y="85" width="1" height="6" fill="#0a5f9f"/><rect x="845" y="97" width="1" height="11" fill="#0a5f9f"/><rect x="843.5" y="91.5" width="4" height="5" fill="rgba(10,95,159,0.78)" stroke="#0a5f9f" stroke-width="1"/><rect x="851" y="105" width="1" height="17" fill="#d9442e"/><rect x="849.5" y="91.5" width="4" height="13" fill="rgba(217,68,46,0.78)" stroke="#d9442e" stroke-width="1"/><rect x="857" y="105" width="1" height="14" fill="#0a5f9f"/><rect x="855.5" y="97.5" width="4" height="7" fill="rgba(10,95,159,0.78)" stroke="#0a5f9f" stroke-width="1"/><rect x="862" y="73" width="1" height="9" fill="#0a5f9f"/><rect x="862" y="98" width="1" height="2" fill="#0a5f9f"/><rect x="860.5" y="82.5" width="4" height="15" fill="rgba(10,95,159,0.78)" stroke="#0a5f9f" stroke-width="1"/><rect x="868" y="78" width="1" height="4" fill="#d9442e"/><rect x="866.5" y="82.5" width="4" height="13" fill="rgba(217,68,46,0.78)" stroke="#d9442e" stroke-width="1"/><rect x="873" y="92" width="1" height="3" fill="#d9442e"/><rect x="873" y="100" width="1" height="20" fill="#d9442e"/><rect x="871.5" y="95.5" width="4" height="4" fill="rgba(217,68,46,0.78)" stroke="#d9442e" stroke-width="1"/><rect x="879" y="81" width="1" height="8" fill="#0a5f9f"/><rect x="877.5" y="89.5" width="4" height="10" fill="rgba(10,95,159,0.78)" stroke="#0a5f9f" stroke-width="1"/><rect x="884" y="78" width="1" height="6" fill="#0a5f9f"/><rect x="884" y="90" width="1" height="3" fill="#0a5f9f"/><rect x="882.5" y="84.5" width="4" height="5" fill="rgba(10,95,159,0.78)" stroke="#0a5f9f" stroke-width="1"/><rect x="890" y="74" width="1" height="2" fill="#0a5f9f"/><rect x="890" y="85" width="1" height="1" fill="#0a5f9f"/><rect x="888.5" y="76.5" width="4" height="8" fill="rgba(10,95,159,0.78)" stroke="#0a5f9f" stroke-width="1"/><rect x="896" y="77" width="1" height="1" fill="#0a5f9f"/><rect x="894.5" y="70.5" width="4" height="6" fill="rgba(10,95,159,0.78)" stroke="#0a5f9f" stroke-width="1"/><rect x="901" y="64" width="1" height="6" fill="#d9442e"/><rect x="901" y="75" width="1" height="1" fill="#d9442e"/><rect x="899.5" y="70.5" width="4" height="4" fill="rgba(217,68,46,0.78)" stroke="#d9442e" stroke-width="1"/><rect x="907" y="71" width="1" height="3" fill="#d9442e"/><rect x="907" y="75" width="1" height="1" fill="#d9442e"/><rect x="906" y="74" width="3" height="1" fill="#d9442e"/><rect x="905" y="74" width="1" height="1" fill="#d9442e" fill-opacity="0.55"/><rect x="909" y="74" width="1" height="1" fill="#d9442e" fill-opacity="0.55"/><rect x="912" y="72" width="1" height="2" fill="#d9442e"/><rect x="912" y="89" width="1" height="4" fill="#d9442e"/><rect x="910.5" y="74.5" width="4" height="14" fill="rgba(217,68,46,0.78)" stroke="#d9442e" stroke-width="1"/><rect x="918" y="76" width="1" height="12" fill="#d9442e"/><rect x="918" y="130" width="1" height="71" fill="#d9442e"/><rect x="916.5" y="88.5" width="4" height="41" fill="rgba(217,68,46,0.78)" stroke="#d9442e" stroke-width="1"/><rect x="923" y="130" width="1" height="21" fill="#0a5f9f"/><rect x="921.5" y="110.5" width="4" height="19" fill="rgba(10,95,159,0.78)" stroke="#0a5f9f" stroke-width="1"/><rect x="929" y="106" width="1" height="4" fill="#d9442e"/><rect x="929" y="122" width="1" height="7" fill="#d9442e"/><rect x="927.5" y="110.5" width="4" height="11" fill="rgba(217,68,46,0.78)" stroke="#d9442e" stroke-width="1"/><rect x="935" y="110" width="1" height="11" fill="#d9442e"/><rect x="935" y="142" width="1" height="3" fill="#d9442e"/><rect x="933.5" y="121.5" width="4" height="20" fill="rgba(217,68,46,0.78)" stroke="#d9442e" stroke-width="1"/><rect x="940" y="306" width="1" height="9" fill="#d9442e"/><rect x="938.5" y="141.5" width="4" height="164" fill="rgba(217,68,46,0.78)" stroke="#d9442e" stroke-width="1"/><rect x="1.5" y="514.5" width="4" height="7" fill="rgba(10,95,159,0.78)" stroke="#0a5f9f" stroke-width="1"/><rect x="6.5" y="504.5" width="4" height="17" fill="rgba(10,95,159,0.78)" stroke="#0a5f9f" stroke-width="1"/><rect x="12.5" y="513.5" width="4" height="8" fill="rgba(10,95,159,0.78)" stroke="#0a5f9f" stroke-width="1"/><rect x="18.5" y="507.5" width="4" height="14" fill="rgba(10,95,159,0.78)" stroke="#0a5f9f" stroke-width="1"/><rect x="23.5" y="507.5" width="4" height="14" fill="rgba(10,95,159,0.78)" stroke="#0a5f9f" stroke-width="1"/><rect x="29.5" y="498.5" width="4" height="23" fill="rgba(10,95,159,0.78)" stroke="#0a5f9f" stroke-width="1"/><rect x="34.5" y="509.5" width="4" height="12" fill="rgba(10,95,159,0.78)" stroke="#0a5f9f" stroke-width="1"/><rect x="40.5" y="513.5" width="4" height="8" fill="rgba(10,95,159,0.78)" stroke="#0a5f9f" stroke-width="1"/><rect x="45.5" y="511.5" width="4" height="10" fill="rgba(10,95,159,0.78)" stroke="#0a5f9f" stroke-width="1"/><rect x="51.5" y="511.5" width="4" height="10" fill="rgba(10,95,159,0.78)" stroke="#0a5f9f" stroke-width="1"/><rect x="57.5" y="505.5" width="4" height="16" fill="rgba(10,95,159,0.78)" stroke="#0a5f9f" stroke-width="1"/><rect x="62.5" y="513.5" width="4" height="8" fill="rgba(10,95,159,0.78)" stroke="#0a5f9f" stroke-width="1"/><rect x="68.5" y="517.5" width="4" height="4" fill="rgba(10,95,159,0.78)" stroke="#0a5f9f" stroke-width="1"/><rect x="73.5" y="515.5" width="4" height="6" fill="rgba(10,95,159,0.78)" stroke="#0a5f9f" stroke-width="1"/><rect x="79.5" y="511.5" width="4" height="10" fill="rgba(10,95,159,0.78)" stroke="#0a5f9f" stroke-width="1"/><rect x="84.5" y="501.5" width="4" height="20" fill="rgba(10,95,159,0.78)" stroke="#0a5f9f" stroke-width="1"/><rect x="90.5" y="505.5" width="4" height="16" fill="rgba(10,95,159,0.78)" stroke="#0a5f9f" stroke-width="1"/><rect x="96.5" y="513.5" width="4" height="8" fill="rgba(10,95,159,0.78)" stroke="#0a5f9f" stroke-width="1"/><rect x="101.5" y="515.5" width="4" height="6" fill="rgba(10,95,159,0.78)" stroke="#0a5f9f" stroke-width="1"/><rect x="107.5" y="512.5" width="4" height="9" fill="rgba(10,95,159,0.78)" stroke="#0a5f9f" stroke-width="1"/><rect x="112.5" y="514.5" width="4" height="7" fill="rgba(10,95,159,0.78)" stroke="#0a5f9f" stroke-width="1"/><rect x="118.5" y="496.5" width="4" height="25" fill="rgba(10,95,159,0.78)" stroke="#0a5f9f" stroke-width="1"/><rect x="124.5" y="510.5" width="4" height="11" fill="rgba(10,95,159,0.78)" stroke="#0a5f9f" stroke-width="1"/><rect x="129.5" y="509.5" width="4" height="12" fill="rgba(10,95,159,0.78)" stroke="#0a5f9f" stroke-width="1"/><rect x="135.5" y="511.5" width="4" height="10" fill="rgba(10,95,159,0.78)" stroke="#0a5f9f" stroke-width="1"/><rect x="140.5" y="513.5" width="4" height="8" fill="rgba(10,95,159,0.78)" stroke="#0a5f9f" stroke-width="1"/><rect x="146.5" y="513.5" width="4" height="8" fill="rgba(10,95,159,0.78)" stroke="#0a5f9f" stroke-width="1"/><rect x="151.5" y="504.5" width="4" height="17" fill="rgba(10,95,159,0.78)" stroke="#0a5f9f" stroke-width="1"/><rect x="157.5" y="512.5" width="4" height="9" fill="rgba(10,95,159,0.78)" stroke="#0a5f9f" stroke-width="1"/><rect x="163.5" y="509.5" width="4" height="12" fill="rgba(10,95,159,0.78)" stroke="#0a5f9f" stroke-width="1"/><rect x="168.5" y="513.5" width="4" height="8" fill="rgba(10,95,159,0.78)" stroke="#0a5f9f" stroke-width="1"/><rect x="174.5" y="514.5" width="4" height="7" fill="rgba(10,95,159,0.78)" stroke="#0a5f9f" stroke-width="1"/><rect x="179.5" y="513.5" width="4" height="8" fill="rgba(10,95,159,0.78)" stroke="#0a5f9f" stroke-width="1"/><rect x="185.5" y="513.5" width="4" height="8" fill="rgba(10,95,159,0.78)" stroke="#0a5f9f" stroke-width="1"/><rect x="191.5" y="516.5" width="4" height="5" fill="rgba(10,95,159,0.78)" stroke="#0a5f9f" stroke-width="1"/><rect x="196.5" y="517.5" width="4" height="4" fill="rgba(10,95,159,0.78)" stroke="#0a5f9f" stroke-width="1"/><rect x="202.5" y="510.5" width="4" height="11" fill="rgba(10,95,159,0.78)" stroke="#0a5f9f" stroke-width="1"/><rect x="207.5" y="514.5" width="4" height="7" fill="rgba(10,95,159,0.78)" stroke="#0a5f9f" stroke-width="1"/><rect x="213.5" y="513.5" width="4" height="8" fill="rgba(10,95,159,0.78)" stroke="#0a5f9f" stroke-width="1"/><rect x="218.5" y="517.5" width="4" height="4" fill="rgba(10,95,159,0.78)" stroke="#0a5f9f" stroke-width="1"/><rect x="224.5" y="518.5" width="4" height="3" fill="rgba(10,95,159,0.78)" stroke="#0a5f9f" stroke-width="1"/><rect x="230.5" y="518.5" width="4" height="3" fill="rgba(10,95,159,0.78)" stroke="#0a5f9f" stroke-width="1"/><rect x="235.5" y="515.5" width="4" height="6" fill="rgba(10,95,159,0.78)" stroke="#0a5f9f" stroke-width="1"/><rect x="241.5" y="519.5" width="4" height="2" fill="rgba(10,95,159,0.78)" stroke="#0a5f9f" stroke-width="1"/><rect x="246.5" y="518.5" width="4" height="3" fill="rgba(10,95,159,0.78)" stroke="#0a5f9f" stroke-width="1"/><rect x="252.5" y="517.5" width="4" height="4" fill="rgba(10,95,159,0.78)" stroke="#0a5f9f" stroke-width="1"/><rect x="257.5" y="519.5" width="4" height="2" fill="rgba(10,95,159,0.78)" stroke="#0a5f9f" stroke-width="1"/><rect x="263.5" y="519.5" width="4" height="2" fill="rgba(10,95,159,0.78)" stroke="#0a5f9f" stroke-width="1"/><rect x="269.5" y="518.5" width="4" height="3" fill="rgba(10,95,159,0.78)" stroke="#0a5f9f" stroke-width="1"/><rect x="274.5" y="518.5" width="4" height="3" fill="rgba(10,95,159,0.78)" stroke="#0a5f9f" stroke-width="1"/><rect x="280.5" y="517.5" width="4" height="4" fill="rgba(10,95,159,0.78)" stroke="#0a5f9f" stroke-width="1"/><rect x="285.5" y="518.5" width="4" height="3" fill="rgba(10,95,159,0.78)" stroke="#0a5f9f" stroke-width="1"/><rect x="291.5" y="518.5" width="4" height="3" fill="rgba(10,95,159,0.78)" stroke="#0a5f9f" stroke-width="1"/><rect x="297.5" y="513.5" width="4" height="8" fill="rgba(10,95,159,0.78)" stroke="#0a5f9f" stroke-width="1"/><rect x="302.5" y="518.5" width="4" height="3" fill="rgba(10,95,159,0.78)" stroke="#0a5f9f" stroke-width="1"/><rect x="308.5" y="518.5" width="4" height="3" fill="rgba(10,95,159,0.78)" stroke="#0a5f9f" stroke-width="1"/><rect x="313.5" y="519.5" width="4" height="2" fill="rgba(10,95,159,0.78)" stroke="#0a5f9f" stroke-width="1"/><rect x="319.5" y="519.5" width="4" height="2" fill="rgba(10,95,159,0.78)" stroke="#0a5f9f" stroke-width="1"/><rect x="324.5" y="518.5" width="4" height="3" fill="rgba(10,95,159,0.78)" stroke="#0a5f9f" stroke-width="1"/><rect x="330.5" y="518.5" width="4" height="3" fill="rgba(10,95,159,0.78)" stroke="#0a5f9f" stroke-width="1"/><rect x="336.5" y="518.5" width="4" height="3" fill="rgba(10,95,159,0.78)" stroke="#0a5f9f" stroke-width="1"/><rect x="341.5" y="519.5" width="4" height="2" fill="rgba(10,95,159,0.78)" stroke="#0a5f9f" stroke-width="1"/><rect x="347.5" y="519.5" width="4" height="2" fill="rgba(10,95,159,0.78)" stroke="#0a5f9f" stroke-width="1"/><rect x="352.5" y="519.5" width="4" height="2" fill="rgba(10,95,159,0.78)" stroke="#0a5f9f" stroke-width="1"/><rect x="358" y="520" width="5" height="2" fill="#0a5f9f"/><rect x="363" y="520" width="5" height="2" fill="#0a5f9f"/><rect x="369" y="520" width="5" height="2" fill="#0a5f9f"/><rect x="375" y="520" width="5" height="2" fill="#0a5f9f"/><rect x="380" y="520" width="5" height="2" fill="#0a5f9f"/><rect x="386.5" y="516.5" width="4" height="5" fill="rgba(10,95,159,0.78)" stroke="#0a5f9f" stroke-width="1"/><rect x="391.5" y="512.5" width="4" height="9" fill="rgba(10,95,159,0.78)" stroke="#0a5f9f" stroke-width="1"/><rect x="397.5" y="516.5" width="4" height="5" fill="rgba(10,95,159,0.78)" stroke="#0a5f9f" stroke-width="1"/><rect x="403.5" y="519.5" width="4" height="2" fill="rgba(10,95,159,0.78)" stroke="#0a5f9f" stroke-width="1"/><rect x="408.5" y="519.5" width="4" height="2" fill="rgba(10,95,159,0.78)" stroke="#0a5f9f" stroke-width="1"/><rect x="414.5" y="517.5" width="4" height="4" fill="rgba(10,95,159,0.78)" stroke="#0a5f9f" stroke-width="1"/><rect x="419.5" y="509.5" width="4" height="12" fill="rgba(10,95,159,0.78)" stroke="#0a5f9f" stroke-width="1"/><rect x="425.5" y="488.5" width="4" height="33" fill="rgba(10,95,159,0.78)" stroke="#0a5f9f" stroke-width="1"/><rect x="430.5" y="511.5" width="4" height="10" fill="rgba(10,95,159,0.78)" stroke="#0a5f9f" stroke-width="1"/><rect x="436.5" y="510.5" width="4" height="11" fill="rgba(10,95,159,0.78)" stroke="#0a5f9f" stroke-width="1"/><rect x="442.5" y="514.5" width="4" height="7" fill="rgba(10,95,159,0.78)" stroke="#0a5f9f" stroke-width="1"/><rect x="447.5" y="507.5" width="4" height="14" fill="rgba(10,95,159,0.78)" stroke="#0a5f9f" stroke-width="1"/><rect x="453.5" y="513.5" width="4" height="8" fill="rgba(10,95,159,0.78)" stroke="#0a5f9f" stroke-width="1"/><rect x="458.5" y="514.5" width="4" height="7" fill="rgba(10,95,159,0.78)" stroke="#0a5f9f" stroke-width="1"/><rect x="464.5" y="514.5" width="4" height="7" fill="rgba(10,95,159,0.78)" stroke="#0a5f9f" stroke-width="1"/><rect x="470.5" y="518.5" width="4" height="3" fill="rgba(10,95,159,0.78)" stroke="#0a5f9f" stroke-width="1"/><rect x="475.5" y="518.5" width="4" height="3" fill="rgba(10,95,159,0.78)" stroke="#0a5f9f" stroke-width="1"/><rect x="481.5" y="510.5" width="4" height="11" fill="rgba(10,95,159,0.78)" stroke="#0a5f9f" stroke-width="1"/><rect x="486.5" y="514.5" width="4" height="7" fill="rgba(10,95,159,0.78)" stroke="#0a5f9f" stroke-width="1"/><rect x="492.5" y="518.5" width="4" height="3" fill="rgba(10,95,159,0.78)" stroke="#0a5f9f" stroke-width="1"/><rect x="497.5" y="517.5" width="4" height="4" fill="rgba(10,95,159,0.78)" stroke="#0a5f9f" stroke-width="1"/><rect x="503.5" y="518.5" width="4" height="3" fill="rgba(10,95,159,0.78)" stroke="#0a5f9f" stroke-width="1"/><rect x="509.5" y="514.5" width="4" height="7" fill="rgba(10,95,159,0.78)" stroke="#0a5f9f" stroke-width="1"/><rect x="514.5" y="516.5" width="4" height="5" fill="rgba(10,95,159,0.78)" stroke="#0a5f9f" stroke-width="1"/><rect x="520.5" y="510.5" width="4" height="11" fill="rgba(10,95,159,0.78)" stroke="#0a5f9f" stroke-width="1"/><rect x="525.5" y="511.5" width="4" height="10" fill="rgba(10,95,159,0.78)" stroke="#0a5f9f" stroke-width="1"/><rect x="531.5" y="510.5" width="4" height="11" fill="rgba(10,95,159,0.78)" stroke="#0a5f9f" stroke-width="1"/><rect x="536.5" y="508.5" width="4" height="13" fill="rgba(10,95,159,0.78)" stroke="#0a5f9f" stroke-width="1"/><rect x="542.5" y="509.5" width="4" height="12" fill="rgba(10,95,159,0.78)" stroke="#0a5f9f" stroke-width="1"/><rect x="548.5" y="508.5" width="4" height="13" fill="rgba(10,95,159,0.78)" stroke="#0a5f9f" stroke-width="1"/><rect x="553.5" y="505.5" width="4" height="16" fill="rgba(10,95,159,0.78)" stroke="#0a5f9f" stroke-width="1"/><rect x="559.5" y="509.5" width="4" height="12" fill="rgba(10,95,159,0.78)" stroke="#0a5f9f" stroke-width="1"/><rect x="564.5" y="512.5" width="4" height="9" fill="rgba(10,95,159,0.78)" stroke="#0a5f9f" stroke-width="1"/><rect x="570.5" y="507.5" width="4" height="14" fill="rgba(10,95,159,0.78)" stroke="#0a5f9f" stroke-width="1"/><rect x="576.5" y="489.5" width="4" height="32" fill="rgba(10,95,159,0.78)" stroke="#0a5f9f" stroke-width="1"/><rect x="581.5" y="504.5" width="4" height="17" fill="rgba(10,95,159,0.78)" stroke="#0a5f9f" stroke-width="1"/><rect x="587.5" y="515.5" width="4" height="6" fill="rgba(10,95,159,0.78)" stroke="#0a5f9f" stroke-width="1"/><rect x="592.5" y="513.5" width="4" height="8" fill="rgba(10,95,159,0.78)" stroke="#0a5f9f" stroke-width="1"/><rect x="598.5" y="516.5" width="4" height="5" fill="rgba(10,95,159,0.78)" stroke="#0a5f9f" stroke-width="1"/><rect x="603.5" y="512.5" width="4" height="9" fill="rgba(10,95,159,0.78)" stroke="#0a5f9f" stroke-width="1"/><rect x="609.5" y="512.5" width="4" height="9" fill="rgba(10,95,159,0.78)" stroke="#0a5f9f" stroke-width="1"/><rect x="615.5" y="512.5" width="4" height="9" fill="rgba(10,95,159,0.78)" stroke="#0a5f9f" stroke-width="1"/><rect x="620.5" y="516.5" width="4" height="5" fill="rgba(10,95,159,0.78)" stroke="#0a5f9f" stroke-width="1"/><rect x="626.5" y="515.5" width="4" height="6" fill="rgba(10,95,159,0.78)" stroke="#0a5f9f" stroke-width="1"/><rect x="631.5" y="517.5" width="4" height="4" fill="rgba(10,95,159,0.78)" stroke="#0a5f9f" stroke-width="1"/><rect x="637.5" y="511.5" width="4" height="10" fill="rgba(10,95,159,0.78)" stroke="#0a5f9f" stroke-width="1"/><rect x="642.5" y="517.5" width="4" height="4" fill="rgba(10,95,159,0.78)" stroke="#0a5f9f" stroke-width="1"/><rect x="648.5" y="515.5" width="4" height="6" fill="rgba(10,95,159,0.78)" stroke="#0a5f9f" stroke-width="1"/><rect x="654.5" y="511.5" width="4" height="10" fill="rgba(10,95,159,0.78)" stroke="#0a5f9f" stroke-width="1"/><rect x="659.5" y="514.5" width="4" height="7" fill="rgba(10,95,159,0.78)" stroke="#0a5f9f" stroke-width="1"/><rect x="665.5" y="516.5" width="4" height="5" fill="rgba(10,95,159,0.78)" stroke="#0a5f9f" stroke-width="1"/><rect x="670.5" y="512.5" width="4" height="9" fill="rgba(10,95,159,0.78)" stroke="#0a5f9f" stroke-width="1"/><rect x="676.5" y="515.5" width="4" height="6" fill="rgba(10,95,159,0.78)" stroke="#0a5f9f" stroke-width="1"/><rect x="682.5" y="513.5" width="4" height="8" fill="rgba(10,95,159,0.78)" stroke="#0a5f9f" stroke-width="1"/><rect x="687.5" y="512.5" width="4" height="9" fill="rgba(10,95,159,0.78)" stroke="#0a5f9f" stroke-width="1"/><rect x="693.5" y="517.5" width="4" height="4" fill="rgba(10,95,159,0.78)" stroke="#0a5f9f" stroke-width="1"/><rect x="698.5" y="515.5" width="4" height="6" fill="rgba(10,95,159,0.78)" stroke="#0a5f9f" stroke-width="1"/><rect x="704.5" y="511.5" width="4" height="10" fill="rgba(10,95,159,0.78)" stroke="#0a5f9f" stroke-width="1"/><rect x="709.5" y="511.5" width="4" height="10" fill="rgba(10,95,159,0.78)" stroke="#0a5f9f" stroke-width="1"/><rect x="715.5" y="508.5" width="4" height="13" fill="rgba(10,95,159,0.78)" stroke="#0a5f9f" stroke-width="1"/><rect x="721.5" y="513.5" width="4" height="8" fill="rgba(10,95,159,0.78)" stroke="#0a5f9f" stroke-width="1"/><rect x="726.5" y="501.5" width="4" height="20" fill="rgba(10,95,159,0.78)" stroke="#0a5f9f" stroke-width="1"/><rect x="732.5" y="500.5" width="4" height="21" fill="rgba(10,95,159,0.78)" stroke="#0a5f9f" stroke-width="1"/><rect x="737.5" y="512.5" width="4" height="9" fill="rgba(10,95,159,0.78)" stroke="#0a5f9f" stroke-width="1"/><rect x="743.5" y="508.5" width="4" height="13" fill="rgba(10,95,159,0.78)" stroke="#0a5f9f" stroke-width="1"/><rect x="748.5" y="511.5" width="4" height="10" fill="rgba(10,95,159,0.78)" stroke="#0a5f9f" stroke-width="1"/><rect x="754.5" y="508.5" width="4" height="13" fill="rgba(10,95,159,0.78)" stroke="#0a5f9f" stroke-width="1"/><rect x="760" y="521" width="5" height="1" fill="#0a5f9f"/><rect x="765.5" y="507.5" width="4" height="14" fill="rgba(10,95,159,0.78)" stroke="#0a5f9f" stroke-width="1"/><rect x="771.5" y="512.5" width="4" height="9" fill="rgba(10,95,159,0.78)" stroke="#0a5f9f" stroke-width="1"/><rect x="776.5" y="513.5" width="4" height="8" fill="rgba(10,95,159,0.78)" stroke="#0a5f9f" stroke-width="1"/><rect x="782.5" y="508.5" width="4" height="13" fill="rgba(10,95,159,0.78)" stroke="#0a5f9f" stroke-width="1"/><rect x="788.5" y="512.5" width="4" height="9" fill="rgba(10,95,159,0.78)" stroke="#0a5f9f" stroke-width="1"/><rect x="793.5" y="498.5" width="4" height="23" fill="rgba(10,95,159,0.78)" stroke="#0a5f9f" stroke-width="1"/><rect x="799.5" y="500.5" width="4" height="21" fill="rgba(10,95,159,0.78)" stroke="#0a5f9f" stroke-width="1"/><rect x="804.5" y="502.5" width="4" height="19" fill="rgba(10,95,159,0.78)" stroke="#0a5f9f" stroke-width="1"/><rect x="810.5" y="482.5" width="4" height="39" fill="rgba(10,95,159,0.78)" stroke="#0a5f9f" stroke-width="1"/><rect x="815.5" y="501.5" width="4" height="20" fill="rgba(10,95,159,0.78)" stroke="#0a5f9f" stroke-width="1"/><rect x="821.5" y="502.5" width="4" height="19" fill="rgba(10,95,159,0.78)" stroke="#0a5f9f" stroke-width="1"/><rect x="827.5" y="475.5" width="4" height="46" fill="rgba(10,95,159,0.78)" stroke="#0a5f9f" stroke-width="1"/><rect x="832.5" y="489.5" width="4" height="32" fill="rgba(10,95,159,0.78)" stroke="#0a5f9f" stroke-width="1"/><rect x="838.5" y="489.5" width="4" height="32" fill="rgba(10,95,159,0.78)" stroke="#0a5f9f" stroke-width="1"/><rect x="843.5" y="485.5" width="4" height="36" fill="rgba(10,95,159,0.78)" stroke="#0a5f9f" stroke-width="1"/><rect x="849.5" y="482.5" width="4" height="39" fill="rgba(10,95,159,0.78)" stroke="#0a5f9f" stroke-width="1"/><rect x="855.5" y="497.5" width="4" height="24" fill="rgba(10,95,159,0.78)" stroke="#0a5f9f" stroke-width="1"/><rect x="860.5" y="485.5" width="4" height="36" fill="rgba(10,95,159,0.78)" stroke="#0a5f9f" stroke-width="1"/><rect x="866.5" y="500.5" width="4" height="21" fill="rgba(10,95,159,0.78)" stroke="#0a5f9f" stroke-width="1"/><rect x="871.5" y="493.5" width="4" height="28" fill="rgba(10,95,159,0.78)" stroke="#0a5f9f" stroke-width="1"/><rect x="877.5" y="501.5" width="4" height="20" fill="rgba(10,95,159,0.78)" stroke="#0a5f9f" stroke-width="1"/><rect x="882.5" y="505.5" width="4" height="16" fill="rgba(10,95,159,0.78)" stroke="#0a5f9f" stroke-width="1"/><rect x="888.5" y="507.5" width="4" height="14" fill="rgba(10,95,159,0.78)" stroke="#0a5f9f" stroke-width="1"/><rect x="894.5" y="508.5" width="4" height="13" fill="rgba(10,95,159,0.78)" stroke="#0a5f9f" stroke-width="1"/><rect x="899.5" y="508.5" width="4" height="13" fill="rgba(10,95,159,0.78)" stroke="#0a5f9f" stroke-width="1"/><rect x="905.5" y="512.5" width="4" height="9" fill="rgba(10,95,159,0.78)" stroke="#0a5f9f" stroke-width="1"/><rect x="910.5" y="502.5" width="4" height="19" fill="rgba(10,95,159,0.78)" stroke="#0a5f9f" stroke-width="1"/><rect x="916.5" y="477.5" width="4" height="44" fill="rgba(10,95,159,0.78)" stroke="#0a5f9f" stroke-width="1"/><rect x="921.5" y="483.5" width="4" height="38" fill="rgba(10,95,159,0.78)" stroke="#0a5f9f" stroke-width="1"/><rect x="927.5" y="504.5" width="4" height="17" fill="rgba(10,95,159,0.78)" stroke="#0a5f9f" stroke-width="1"/><rect x="933.5" y="498.5" width="4" height="23" fill="rgba(10,95,159,0.78)" stroke="#0a5f9f" stroke-width="1"/><rect x="938.5" y="395.5" width="4" height="126" fill="rgba(10,95,159,0.78)" stroke="#0a5f9f" stroke-width="1"/></g>
<g><text transform="translate(0.427,17) scale(1.0769,1)" x="0" y="0" text-anchor="start" stroke="#111" stroke-width="0.35" style="font-size:11px;font-weight:bold;letter-spacing:0.5px">CryptoCompare</text><text transform="translate(100.142,17) scale(1.1618,1)" x="0" y="0" text-anchor="start" stroke="#111" stroke-width="0.35" style="font-size:11px;font-weight:bold;letter-spacing:0.5px">Index</text><text transform="translate(139.580,17) scale(1.1500,1)" x="0" y="0" text-anchor="start" stroke="#111" stroke-width="0.35" style="font-size:11px;font-weight:bold;letter-spacing:0px">:</text><text transform="translate(148.431,17) scale(0.9474,1)" x="0" y="0" text-anchor="start" stroke="#111" stroke-width="0.35" style="font-size:11px;font-weight:bold;letter-spacing:0.5px">BTC</text><text transform="translate(0.656,366) scale(1.1347,1)" x="0" y="0" text-anchor="start" stroke="#111" stroke-width="0.35" style="font-size:11px;font-weight:bold;letter-spacing:0.5px">Volume</text><text transform="translate(51.297,366) scale(0.9625,1)" x="0" y="0" text-anchor="start" stroke="#111" stroke-width="0.35" style="font-size:11px;font-weight:bold;letter-spacing:0.5px">BTC</text><text transform="translate(3.784,68) scale(1.0509,1)" x="0" y="0" text-anchor="start" stroke="#111" stroke-width="0.05" style="font-size:11px;font-weight:normal;letter-spacing:0.7px">1,150</text><text transform="translate(3.680,113) scale(1.0526,1)" x="0" y="0" text-anchor="start" stroke="#111" stroke-width="0.05" style="font-size:11px;font-weight:normal;letter-spacing:0.7px">1,100</text><text transform="translate(3.739,158) scale(1.0508,1)" x="0" y="0" text-anchor="start" stroke="#111" stroke-width="0.05" style="font-size:11px;font-weight:normal;letter-spacing:0.7px">1,050</text><text transform="translate(3.680,204) scale(1.0526,1)" x="0" y="0" text-anchor="start" stroke="#111" stroke-width="0.05" style="font-size:11px;font-weight:normal;letter-spacing:0.7px">1,000</text><text transform="translate(4.307,249) scale(1.0374,1)" x="0" y="0" text-anchor="start" stroke="#111" stroke-width="0.05" style="font-size:11px;font-weight:normal;letter-spacing:0.7px">950</text><text transform="translate(4.130,294) scale(1.0452,1)" x="0" y="0" text-anchor="start" stroke="#111" stroke-width="0.05" style="font-size:11px;font-weight:normal;letter-spacing:0.7px">900</text><text transform="translate(4.198,339) scale(1.0317,1)" x="0" y="0" text-anchor="start" stroke="#111" stroke-width="0.05" style="font-size:11px;font-weight:normal;letter-spacing:0.7px">850</text><text transform="translate(4.045,409) scale(1.0464,1)" x="0" y="0" text-anchor="start" stroke="#111" stroke-width="0.05" style="font-size:11px;font-weight:normal;letter-spacing:0.7px">30,000</text><text transform="translate(4.170,446) scale(1.0452,1)" x="0" y="0" text-anchor="start" stroke="#111" stroke-width="0.05" style="font-size:11px;font-weight:normal;letter-spacing:0.7px">20,000</text><text transform="translate(4.001,483) scale(1.0412,1)" x="0" y="0" text-anchor="start" stroke="#111" stroke-width="0.05" style="font-size:11px;font-weight:normal;letter-spacing:0.7px">10,000</text><text transform="translate(4.495,520) scale(1.0342,1)" x="0" y="0" text-anchor="start" stroke="#111" stroke-width="0.05" style="font-size:11px;font-weight:normal;letter-spacing:0px">0</text><text transform="translate(96.949,540) scale(1.0350,1)" x="0" y="0" text-anchor="start" stroke="#111" stroke-width="0.05" style="font-size:11px;font-weight:normal;letter-spacing:0.6px">Dec</text><text transform="translate(121.952,540) scale(1.0836,1)" x="0" y="0" text-anchor="start" stroke="#111" stroke-width="0.05" style="font-size:11px;font-weight:normal;letter-spacing:0.7px">30</text><text transform="translate(230.949,540) scale(1.0350,1)" x="0" y="0" text-anchor="start" stroke="#111" stroke-width="0.05" style="font-size:11px;font-weight:normal;letter-spacing:0.6px">Dec</text><text transform="translate(255.915,540) scale(1.0661,1)" x="0" y="0" text-anchor="start" stroke="#111" stroke-width="0.05" style="font-size:11px;font-weight:normal;letter-spacing:0.7px">31</text><text transform="translate(373.608,540) scale(1.0594,1)" x="0" y="0" text-anchor="start" stroke="#111" stroke-width="0.35" style="font-size:11px;font-weight:bold;letter-spacing:0.5px">Jan</text><text transform="translate(499.218,540) scale(1.0414,1)" x="0" y="0" text-anchor="start" stroke="#111" stroke-width="0.05" style="font-size:11px;font-weight:normal;letter-spacing:0.6px">Jan</text><text transform="translate(523.138,540) scale(1.0694,1)" x="0" y="0" text-anchor="start" stroke="#111" stroke-width="0.05" style="font-size:11px;font-weight:normal;letter-spacing:0.7px">02</text><text transform="translate(633.218,540) scale(1.0414,1)" x="0" y="0" text-anchor="start" stroke="#111" stroke-width="0.05" style="font-size:11px;font-weight:normal;letter-spacing:0.6px">Jan</text><text transform="translate(657.090,540) scale(1.0672,1)" x="0" y="0" text-anchor="start" stroke="#111" stroke-width="0.05" style="font-size:11px;font-weight:normal;letter-spacing:0.7px">03</text><text transform="translate(767.218,540) scale(1.0414,1)" x="0" y="0" text-anchor="start" stroke="#111" stroke-width="0.05" style="font-size:11px;font-weight:normal;letter-spacing:0.6px">Jan</text><text transform="translate(791.187,540) scale(1.0348,1)" x="0" y="0" text-anchor="start" stroke="#111" stroke-width="0.05" style="font-size:11px;font-weight:normal;letter-spacing:0.7px">04</text><text transform="translate(901.218,540) scale(1.0414,1)" x="0" y="0" text-anchor="start" stroke="#111" stroke-width="0.05" style="font-size:11px;font-weight:normal;letter-spacing:0.6px">Jan</text><text transform="translate(925.103,540) scale(1.0627,1)" x="0" y="0" text-anchor="start" stroke="#111" stroke-width="0.05" style="font-size:11px;font-weight:normal;letter-spacing:0.7px">05</text></g>
</svg>
</body></html>
